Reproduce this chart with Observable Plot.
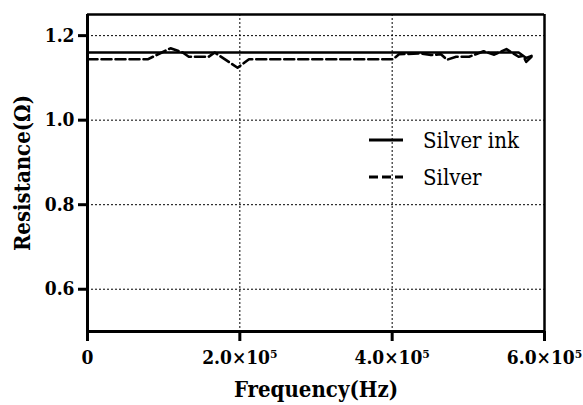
<!DOCTYPE html>
<html><head><meta charset="utf-8">
<script src="https://cdn.jsdelivr.net/npm/d3@7"></script>
<script src="https://cdn.jsdelivr.net/npm/@observablehq/plot@0.6"></script>
<style>
body{margin:0;background:#fff}
svg text{font-family:"DejaVu Serif Condensed","DejaVu Serif",serif;font-stretch:condensed}
</style>
</head><body><div id="chart"></div>
<script>
// Data
const silverInkFreq = [0, 100000, 200000, 300000, 400000, 500000, 566000, 576000, 583000];
const silverInkRes  = [1.16, 1.16, 1.16, 1.16, 1.16, 1.16, 1.16, 1.147, 1.152];
const silverFreq = [0, 79000, 109000, 125000, 133000, 159000, 167000, 197000, 212000, 401000, 409000, 438000, 451000, 464000, 472000, 484000, 501000, 520000, 534000, 550000, 566000, 572000, 576000, 583000];
const silverRes  = [1.144, 1.144, 1.170, 1.160, 1.150, 1.150, 1.160, 1.124, 1.144, 1.144, 1.156, 1.158, 1.154, 1.156, 1.143, 1.150, 1.150, 1.163, 1.155, 1.168, 1.150, 1.152, 1.138, 1.150];
const seriesNames = ["Silver ink", "Silver"];
const xTicks = [0, 200000, 400000, 600000];
const xTickLabels = ["0", "2.0×10⁵", "4.0×10⁵", "6.0×10⁵"];
const yTicks = [0.6, 0.8, 1.0, 1.2];
const yTickLabels = ["0.6", "0.8", "1.0", "1.2"];
const xTitle = "Frequency(Hz)";
const yTitle = "Resistance(Ω)";

const inkData = silverInkFreq.map((f, i) => ({f, r: silverInkRes[i]}));
const agData = silverFreq.map((f, i) => ({f, r: silverRes[i]}));
const grid = {stroke: "#000", strokeWidth: 1, strokeDasharray: "2,2"};

const chart = Plot.plot({
  width: 583, height: 405,
  marginLeft: 87, marginRight: 39, marginTop: 14, marginBottom: 74,
  style: {background: "#fff", color: "#000"},
  x: {domain: [0, 600000]},
  y: {domain: [0.5, 1.25]},
  marks: [
    Plot.ruleX(xTicks.slice(1, -1), grid),
    Plot.ruleY(yTicks, grid),
    Plot.line(agData, {x: "f", y: "r", stroke: "#000", strokeWidth: 2.6, strokeDasharray: "10,4"}),
    Plot.line(inkData, {x: "f", y: "r", stroke: "#000", strokeWidth: 2.6}),
    Plot.ruleY([1.25], {stroke: "#000", strokeWidth: 2.5}),
    Plot.ruleX([600000], {stroke: "#000", strokeWidth: 2.5}),
    Plot.ruleX([0], {stroke: "#000", strokeWidth: 3}),
    Plot.ruleY([0.5], {stroke: "#000", strokeWidth: 3}),
    Plot.axisX(xTicks, {tickSize: 10, tickPadding: 9, strokeWidth: 3,
      tickFormat: d => xTickLabels[xTicks.indexOf(d)],
      fontSize: 19, fontWeight: "bold", label: null}),
    Plot.axisY(yTicks, {tickSize: 9, tickPadding: 4, strokeWidth: 3,
      tickFormat: d => yTickLabels[yTicks.indexOf(d)],
      fontSize: 19, fontWeight: "bold", label: null}),
    Plot.text([xTitle], {frameAnchor: "bottom", dy: 58, fontSize: 22, fontWeight: "bold", lineAnchor: "middle", textAnchor: "middle"}),
    Plot.text([yTitle], {frameAnchor: "left", dx: -65, rotate: -90, fontSize: 22, fontWeight: "bold", lineAnchor: "middle", textAnchor: "middle"})
  ]
});
document.getElementById("chart").appendChild(chart);

// Legend inside the plot area
const svg = d3.select(chart);
const leg = svg.append("g").attr("text-anchor", "start");
const items = [{name: seriesNames[0], dash: null, y: 140}, {name: seriesNames[1], dash: "9,4", y: 177}];
items.forEach(it => {
  leg.append("line").attr("x1", 369).attr("x2", 403).attr("y1", it.y).attr("y2", it.y)
    .attr("stroke", "#000").attr("stroke-width", 3).attr("stroke-dasharray", it.dash);
  leg.append("text").attr("x", 423).attr("y", it.y + 8).attr("font-size", 22)
    .attr("text-anchor", "start").attr("fill", "#000").text(it.name);
});
</script>
</body></html>
